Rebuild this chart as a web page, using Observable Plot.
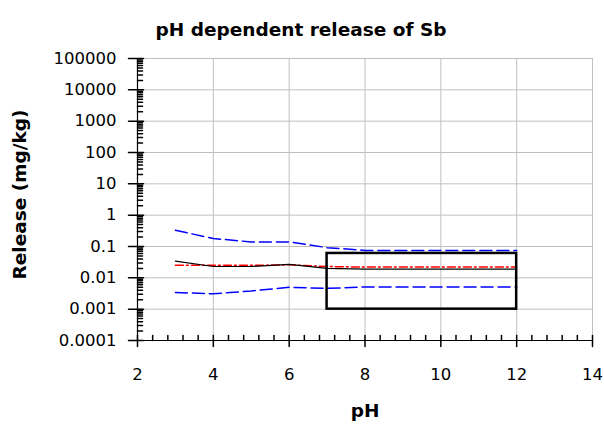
<!DOCTYPE html>
<html><head><meta charset="utf-8">
<script src="https://cdn.jsdelivr.net/npm/d3@7"></script>
<script src="https://cdn.jsdelivr.net/npm/@observablehq/plot@0.6"></script>
<style>body{margin:0;background:#fff}#chart{width:604px;height:426px}</style>
</head><body><div id="chart"></div>
<script>
const title = "pH dependent release of Sb";
const xLabel = "pH";
const yLabel = "Release (mg/kg)";
const ph = [3, 4, 5, 6, 7, 8, 9, 10, 11, 12];
const upperBound = [0.33, 0.18, 0.14, 0.14, 0.092, 0.075, 0.075, 0.075, 0.075, 0.075];
const lowerBound = [0.0034, 0.0031, 0.0038, 0.005, 0.0046, 0.0051, 0.0051, 0.0051, 0.0051, 0.0051];
const measured = [0.034, 0.023, 0.023, 0.027, 0.020, 0.019, 0.019, 0.019, 0.019, 0.019];
const modelled = [0.025, 0.025, 0.025, 0.026, 0.023, 0.022, 0.022, 0.022, 0.022, 0.022];
const boxPh = [7, 12];
const boxRelease = [0.001, 0.06];
const xTicks = [2, 4, 6, 8, 10, 12, 14];
const xTickLabels = ["2", "4", "6", "8", "10", "12", "14"];
const yTicks = [1e-4, 1e-3, 1e-2, 1e-1, 1, 10, 100, 1000, 10000, 100000];
const yTickLabels = ["0.0001", "0.001", "0.01", "0.1", "1", "10", "100", "1000", "10000", "100000"];

const rows = vals => ph.map((x, i) => ({x, y: vals[i]}));
const xMinor = d3.range(2, 14.001, 0.4).filter(v => Math.abs(v / 2 - Math.round(v / 2)) > 0.01);
const yMinor = [];
for (let e = -4; e < 5; e++) for (let k = 2; k <= 9; k++) yMinor.push(k * Math.pow(10, e));

const seg = (x0, y0, x1, y1) => ({draw(ctx) { ctx.moveTo(x0, y0); ctx.lineTo(x1, y1); }});
const font = "DejaVu Sans, Verdana, sans-serif";

const chart = Plot.plot({
  width: 604, height: 426,
  marginLeft: 137, marginRight: 12, marginTop: 58, marginBottom: 86,
  style: {fontFamily: font, fontSize: "16.5px", background: "#fff"},
  x: {domain: [2, 14]},
  y: {type: "log", domain: [1e-4, 1e5]},
  marks: [
    Plot.ruleX(xTicks, {stroke: "#c0c0c0", strokeWidth: 1}),
    Plot.ruleY(yTicks, {stroke: "#c0c0c0", strokeWidth: 1}),
    Plot.line(rows(upperBound), {x: "x", y: "y", stroke: "#0000ff", strokeWidth: 1.5, strokeDasharray: "12,5"}),
    Plot.line(rows(lowerBound), {x: "x", y: "y", stroke: "#0000ff", strokeWidth: 1.5, strokeDasharray: "12,5"}),
    Plot.line(rows(modelled), {x: "x", y: "y", stroke: "#ff0000", strokeWidth: 1.5, strokeDasharray: "8,3,2,3"}),
    Plot.line(rows(measured), {x: "x", y: "y", stroke: "#000", strokeWidth: 1.2}),
    Plot.rect([0], {x1: () => boxPh[0], x2: () => boxPh[1], y1: () => boxRelease[0], y2: () => boxRelease[1], fill: "none", stroke: "#000", strokeWidth: 2.5}),
    Plot.ruleX([2], {stroke: "#000", strokeWidth: 1.2}),
    Plot.ruleY([1e-4], {stroke: "#000", strokeWidth: 1.2}),
    Plot.vector(yTicks, {y: d => d, frameAnchor: "left", anchor: "start", stroke: "#000", shape: seg(-9, 0, 6, 0)}),
    Plot.vector(yMinor, {y: d => d, frameAnchor: "left", anchor: "start", stroke: "#000", shape: seg(0, 0, 5, 0)}),
    Plot.vector(xTicks, {x: d => d, frameAnchor: "bottom", anchor: "start", stroke: "#000", shape: seg(0, -5, 0, 6)}),
    Plot.vector(xMinor, {x: d => d, frameAnchor: "bottom", anchor: "start", stroke: "#000", shape: seg(0, -5, 0, 0)}),
    Plot.axisY({ticks: yTicks, tickSize: 0, tickPadding: 21, tickFormat: d => yTickLabels[yTicks.indexOf(d)], label: null, fill: "#000"}),
    Plot.axisX({ticks: xTicks, tickSize: 0, tickPadding: 28, tickFormat: d => xTickLabels[xTicks.indexOf(d)], label: null, fill: "#000"}),
    Plot.text([title], {frameAnchor: "top-left", textAnchor: "start", dx: 18, dy: -36, fontWeight: "bold", fontSize: 18.5, fill: "#000"}),
    Plot.text([yLabel], {frameAnchor: "left", textAnchor: "middle", rotate: -90, dx: -117, dy: -5, fontWeight: "bold", fontSize: 18.5, fill: "#000"}),
    Plot.text([xLabel], {frameAnchor: "bottom", textAnchor: "middle", dy: 76, fontWeight: "bold", fontSize: 18.5, fill: "#000"})
  ]
});
document.getElementById("chart").appendChild(chart);
</script>
</body></html>
